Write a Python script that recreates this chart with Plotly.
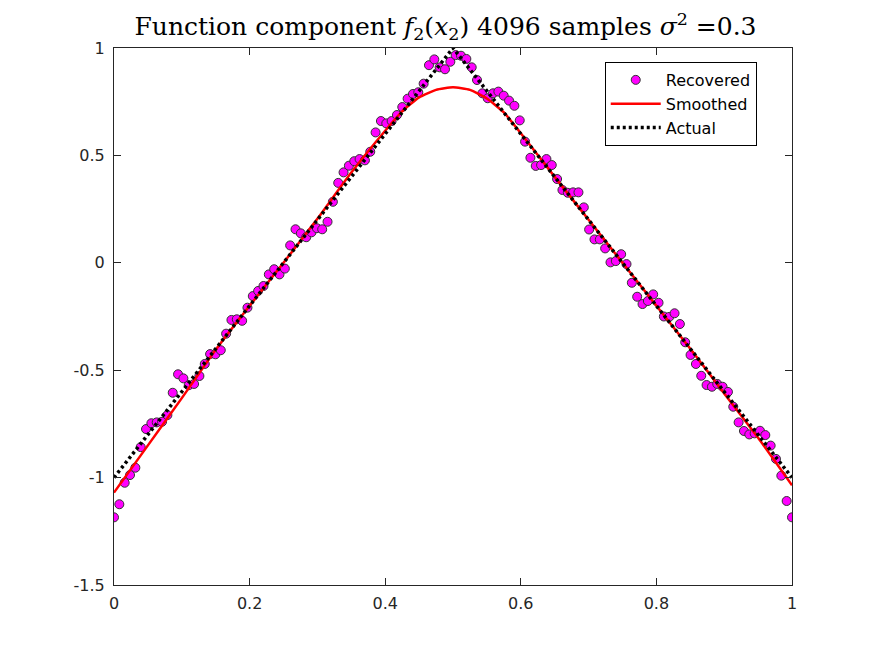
import numpy as np
import plotly.graph_objects as go

# recovered samples (x on an even grid of 128 points)
recovered_y = [
    -1.185, -1.124, -1.024, -0.988, -0.954, -0.858, -0.774, -0.747, -0.743, -0.740,
    -0.709, -0.605, -0.519, -0.538, -0.570, -0.564, -0.527, -0.471, -0.425, -0.426,
    -0.407, -0.330, -0.266, -0.263, -0.270, -0.209, -0.155, -0.131, -0.108, -0.054,
    -0.030, -0.054, -0.027, 0.081, 0.156, 0.137, 0.119, 0.142, 0.161, 0.156,
    0.191, 0.284, 0.372, 0.421, 0.452, 0.473, 0.483, 0.477, 0.517, 0.607,
    0.660, 0.649, 0.660, 0.688, 0.725, 0.764, 0.786, 0.794, 0.834, 0.920,
    0.947, 0.910, 0.901, 0.936, 0.967, 0.964, 0.949, 0.910, 0.851, 0.789,
    0.766, 0.789, 0.797, 0.778, 0.755, 0.731, 0.663, 0.564, 0.489, 0.451,
    0.455, 0.483, 0.455, 0.390, 0.339, 0.326, 0.328, 0.328, 0.258, 0.155,
    0.109, 0.109, 0.067, 0.002, 0.008, 0.040, -0.006, -0.093, -0.158, -0.192,
    -0.178, -0.147, -0.186, -0.250, -0.252, -0.235, -0.285, -0.370, -0.429, -0.471,
    -0.526, -0.569, -0.577, -0.564, -0.577, -0.601, -0.670, -0.743, -0.783, -0.799,
    -0.794, -0.782, -0.802, -0.851, -0.913, -0.991, -1.109, -1.185,
]
recovered_x = np.linspace(0, 1, len(recovered_y))

smoothed_x = [0, 0.05, 0.1, 0.15, 0.2, 0.25, 0.3, 0.35, 0.4, 0.425, 0.45, 0.475, 0.5,
              0.525, 0.55, 0.575, 0.6, 0.65, 0.7, 0.75, 0.8, 0.85, 0.9, 0.95, 1.0]
smoothed_y = [-1.07, -0.85, -0.63, -0.405, -0.2, 0.0, 0.205, 0.42, 0.615, 0.705, 0.77, 0.805, 0.817,
              0.805, 0.765, 0.70, 0.603, 0.40, 0.2, 0.0, -0.2, -0.4, -0.608, -0.815, -1.036]

actual_x = [0, 0.5, 1]
actual_y = [-1, 1, -1]

x_ticks = [0, 0.2, 0.4, 0.6, 0.8, 1]
x_labels = ["0", "0.2", "0.4", "0.6", "0.8", "1"]
y_ticks = [-1.5, -1, -0.5, 0, 0.5, 1]
y_labels = ["-1.5", "-1", "-0.5", "0", "0.5", "1"]

SANS = "DejaVu Sans, Liberation Sans, Arial, sans-serif"

fig = go.Figure()
fig.add_trace(go.Scatter(
    x=recovered_x, y=recovered_y, mode="markers", name="Recovered",
    marker=dict(color="#FF00FF", size=9, line=dict(color="#333333", width=1)),
))
fig.add_trace(go.Scatter(
    x=smoothed_x, y=smoothed_y, mode="lines", name="Smoothed",
    line=dict(color="#FF0000", width=2.5, shape="spline", smoothing=0.5),
))
fig.add_trace(go.Scatter(
    x=actual_x, y=actual_y, mode="lines", name="Actual",
    line=dict(color="black", width=3.5, dash="3px,3px"),
))

axis_style = dict(
    showline=True, linecolor="#262626", linewidth=1, mirror="ticks",
    ticks="inside", ticklen=7, tickcolor="#262626", showgrid=False, zeroline=False,
    tickfont=dict(family=SANS, size=16, color="#262626"),
)

fig.update_xaxes(range=[0, 1], tickvals=x_ticks, ticktext=x_labels,
                 ticklabelstandoff=4, **axis_style)
fig.update_yaxes(range=[-1.5, 1], tickvals=y_ticks, ticktext=y_labels,
                 ticklabelstandoff=5, **axis_style)

# page draws the figure 8px in from the top-left, margins are set so the axes box
# lands at the same pixels as the reference
fig.update_layout(
    width=875, height=656,
    margin=dict(l=106, r=91, t=40, b=79),
    paper_bgcolor="white", plot_bgcolor="white",
    title=dict(
        text="Function component <i>f</i><sub>2</sub>(<i>x</i><sub>2</sub>) 4096 samples "
             "<i>σ</i><sup>2</sup> =0.3",
        x=0.5, xanchor="center", y=0.972, yanchor="middle",
        font=dict(family="DejaVu Serif, Liberation Serif, serif", size=25, color="black"),
    ),
    legend=dict(
        x=0.948, y=0.974, xanchor="right", yanchor="top",
        bgcolor="white", bordercolor="black", borderwidth=1,
        font=dict(family=SANS, size=16, color="black"),
        itemwidth=50,
    ),
    showlegend=True,
)

fig.write_html("out.html")
